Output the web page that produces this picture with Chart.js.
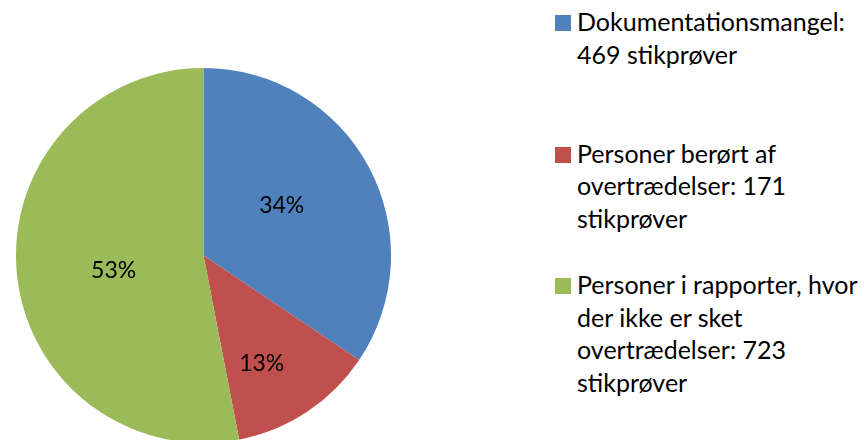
<!DOCTYPE html>
<html>
<head>
<meta charset="utf-8">
<script src="https://cdn.jsdelivr.net/npm/chart.js@4"></script>
<style>
  html, body { margin: 0; padding: 0; width: 864px; height: 440px; overflow: hidden; background: #fff; }
  #pieBox { position: absolute; left: 16px; top: 68px; width: 375px; height: 375px; }
  #legend { position: absolute; left: 555px; top: 0; width: 309px; font-family: Lato, "Noto Sans", sans-serif; font-size: 25px; color: #000; }
  .item { position: absolute; left: 0; width: 309px; }
  .sw { position: absolute; left: 0; width: 16px; height: 16px; }
  .txt { position: absolute; left: 22px; width: 300px; line-height: 32.5px; }
</style>
</head>
<body>
<div id="pieBox"><canvas id="c"></canvas></div>
<div id="legend"></div>
<script>
const categories = ["Dokumentationsmangel", "Personer berørt af overtrædelser", "Personer i rapporter, hvor der ikke er sket overtrædelser"];
const values = [469, 171, 723];
const unitLabel = "stikprøver";
const colors = ["#4F81BD", "#C0504D", "#9BBB59"];
// label placement (fraction of radius, angle offset in degrees)
const labelPlacement = [{f: 0.496, da: -4.7}, {f: 0.654, da: 5.2}, {f: 0.486, da: -4.1}];

const total = values.reduce((a, b) => a + b, 0);

const pctLabels = {
  id: 'pctLabels',
  afterDatasetsDraw(chart) {
    const ctx = chart.ctx;
    const meta = chart.getDatasetMeta(0);
    ctx.save();
    ctx.font = '23px Lato, "Noto Sans", sans-serif';
    ctx.fillStyle = '#000';
    ctx.textAlign = 'center';
    ctx.textBaseline = 'middle';
    meta.data.forEach((arc, i) => {
      const p = arc.getProps(['x', 'y', 'startAngle', 'endAngle', 'outerRadius']);
      const mid = (p.startAngle + p.endAngle) / 2 + labelPlacement[i].da * Math.PI / 180;
      const r = p.outerRadius * labelPlacement[i].f;
      const txt = Math.round(values[i] / total * 100) + '%';
      ctx.fillText(txt, p.x + r * Math.cos(mid), p.y + r * Math.sin(mid));
    });
    ctx.restore();
  }
};

new Chart(document.getElementById('c'), {
  type: 'pie',
  data: {
    labels: categories,
    datasets: [{ data: values, backgroundColor: colors, borderWidth: 0 }]
  },
  options: {
    responsive: true,
    maintainAspectRatio: false,
    animation: false,
    layout: { padding: 0 },
    plugins: { legend: { display: false }, tooltip: { enabled: false } }
  },
  plugins: [pctLabels]
});

const legend = document.getElementById('legend');
categories.forEach((c, i) => {
  const item = document.createElement('div');
  item.className = 'item';
  item.style.top = (15 + i * 131.5) + 'px';
  const sw = document.createElement('div');
  sw.className = 'sw';
  sw.style.background = colors[i];
  const t = document.createElement('div');
  t.className = 'txt';
  t.style.top = '-10px';
  t.textContent = c + ': ' + values[i] + ' ' + unitLabel;
  item.appendChild(sw);
  item.appendChild(t);
  legend.appendChild(item);
});
</script>
</body>
</html>
